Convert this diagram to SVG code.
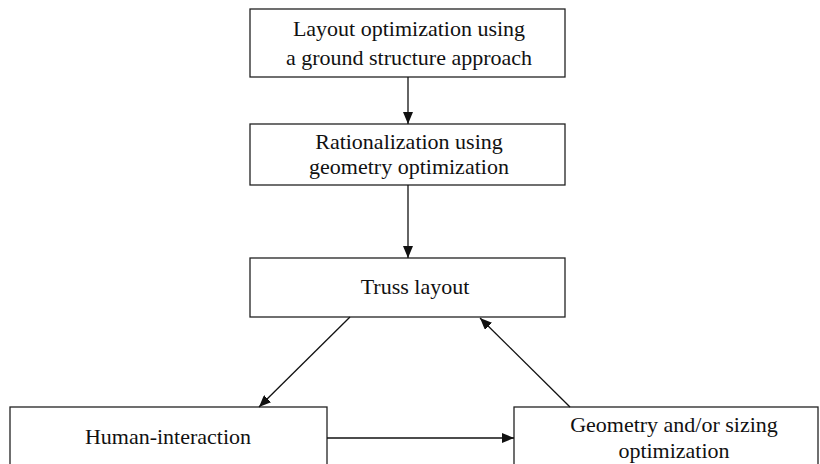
<svg xmlns="http://www.w3.org/2000/svg" width="820" height="464" viewBox="0 0 820 464">
<style>
.box{fill:#fff;stroke:#222;stroke-width:1.3}
.t{font-family:"Liberation Serif","Times New Roman",serif;font-size:22px;fill:#111;text-anchor:middle}
.c{stroke:#111;stroke-width:1.3;fill:none}
</style>
<defs>
<marker id="ah" viewBox="0 0 12 10" refX="12" refY="5" markerWidth="12" markerHeight="10" markerUnits="userSpaceOnUse" orient="auto">
<path d="M0,0 L12,5 L0,10 Z" fill="#111"/>
</marker>
</defs>
<rect width="820" height="464" fill="#fff"/>
<g id="n1"><rect class="box" x="250" y="9" width="315" height="68"/>
<text class="t" x="409" y="36">Layout optimization using</text>
<text class="t" x="409" y="65">a ground structure approach</text></g>
<g id="n2"><rect class="box" x="250" y="124" width="315" height="61"/>
<text class="t" x="409" y="149">Rationalization using</text>
<text class="t" x="409" y="174">geometry optimization</text></g>
<g id="n3"><rect class="box" x="250" y="258" width="315" height="59"/>
<text class="t" x="415" y="294">Truss layout</text></g>
<g id="n4"><rect class="box" x="10" y="407" width="317" height="70"/>
<text class="t" x="168" y="444">Human-interaction</text></g>
<g id="n5"><rect class="box" x="514" y="407" width="304" height="70"/>
<text class="t" x="674" y="432">Geometry and/or sizing</text>
<text class="t" x="674" y="458">optimization</text></g>
<g id="connectors">
<line class="c" x1="408" y1="77" x2="408" y2="124" marker-end="url(#ah)"/>
<line class="c" x1="408" y1="185" x2="408" y2="258" marker-end="url(#ah)"/>
<line class="c" x1="350" y1="317" x2="259" y2="407" marker-end="url(#ah)"/>
<line class="c" x1="570" y1="407" x2="480" y2="318" marker-end="url(#ah)"/>
<line class="c" x1="327" y1="438" x2="514" y2="438" marker-end="url(#ah)"/>
</g>
</svg>
